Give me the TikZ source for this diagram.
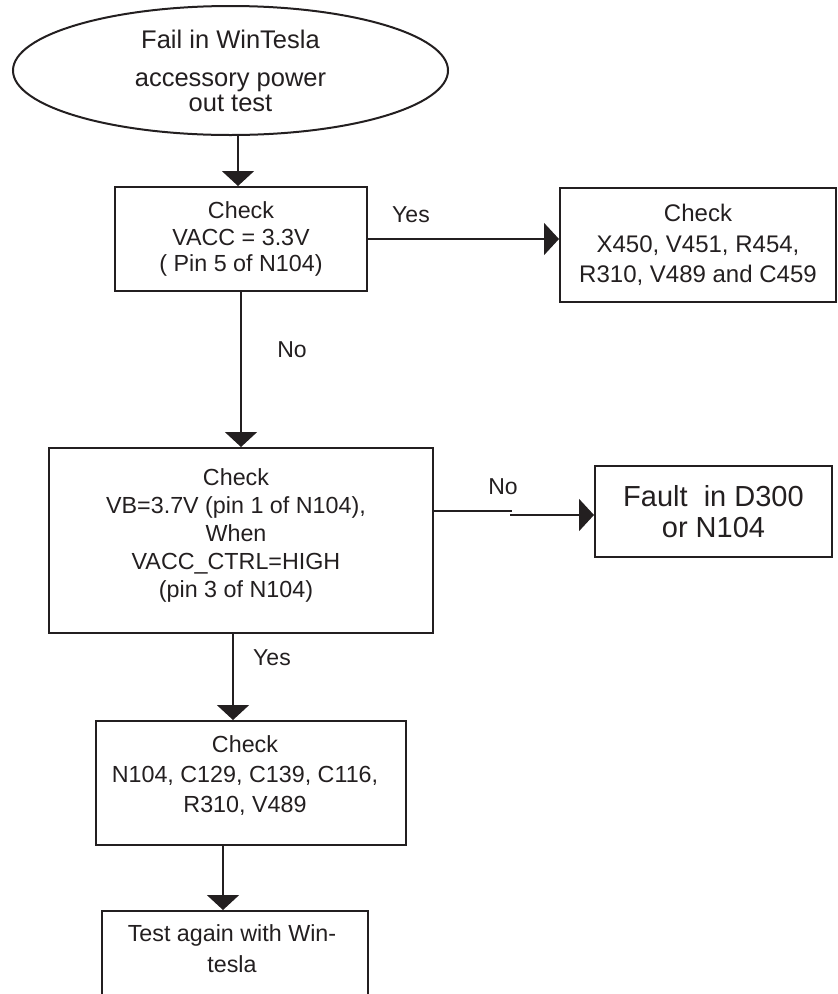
\documentclass[tikz,border=0pt]{standalone}
\usepackage{fontspec}
\setmainfont{Liberation Sans}
\usetikzlibrary{arrows.meta,shapes.geometric}
\definecolor{ink}{HTML}{231F20}
\begin{document}
\begin{tikzpicture}[x=1pt,y=-1pt,
  every node/.style={text=ink, inner sep=0pt},
  flowbox/.style={draw=ink, line width=2pt, rectangle, align=center},
  term/.style={draw=ink, line width=2pt, ellipse, align=center},
  txt/.style={align=center, font=\fontsize{23.3}{28}\selectfont},
  lbl/.style={font=\fontsize{23}{27}\selectfont},
  flow/.style={draw=ink, line width=2pt, -{Triangle[width=32pt,length=15pt]}},
  plain/.style={draw=ink, line width=2pt},
]
\useasboundingbox (0,0) rectangle (838,994);
\clip (0,0) rectangle (838,994);

% start terminal
\node[term, minimum width=435pt, minimum height=129pt,
      font=\fontsize{25.5}{25}\selectfont] (start) at (230.5,70.5)
  {Fail in WinTesla\\[13pt]accessory power\\out test};

% first check: VACC
\node[flowbox, minimum width=252pt, minimum height=104pt,
      font=\fontsize{23.3}{26.5}\selectfont] (vacc) at (241,239)
  {Check\\VACC = 3.3V\\( Pin 5 of N104)};

% components to check when VACC is present
\node[flowbox, minimum width=276pt, minimum height=114pt,
      font=\fontsize{24}{30.5}\selectfont] (xcheck) at (698,245)
  {Check\\X450, V451, R454,\\R310, V489 and C459};

% second check: VB with VACC_CTRL high
\node[flowbox, minimum width=384pt, minimum height=185pt] (vb) at (241,540.5) {};
\node[txt] (vbtext) at (236,535)
  {Check\\VB=3.7V (pin 1 of N104),\\When\\VACC\_CTRL=HIGH\\(pin 3 of N104)};

% fault result
\node[flowbox, minimum width=237pt, minimum height=91pt,
      font=\fontsize{29}{31}\selectfont] (fault) at (713.5,511.5)
  {Fault\ \ in D300\\or N104};

% parts check
\node[flowbox, minimum width=310pt, minimum height=124pt] (parts) at (251,783) {};
\node[txt, font=\fontsize{23.3}{30}\selectfont] (partstext) at (245,776)
  {Check\\N104, C129, C139, C116,\\R310, V489};

% retest
\node[flowbox, minimum width=266pt, minimum height=100pt] (retest) at (235,961) {};
\node[txt, font=\fontsize{23.3}{31}\selectfont] (retesttext) at (232,949)
  {Test again with Win-\\tesla};

% connectors
\coordinate (c1) at (238,0);
\coordinate (c2) at (233,0);
\coordinate (c3) at (223,0);
\coordinate (n1) at (512,511);
\coordinate (n2) at (510,515);

\draw[flow] (start.south -| c1) -- (vacc.north -| c1);
\draw[flow] (vacc.east) -- (vacc.east -| xcheck.west);
\draw[flow] (vacc.south) -- (vb.north);
\draw[plain] (vb.east |- n1) -- (n1);
\draw[flow] (n2) -- (n2 -| fault.west);
\draw[flow] (vb.south -| c2) -- (parts.north -| c2);
\draw[flow] (parts.south -| c3) -- (retest.north -| c3);

% branch labels
\node[lbl] (yes1) at (411,215) {Yes};
\node[lbl] (no1) at (292,350) {No};
\node[lbl] (no2) at (503,487) {No};
\node[lbl] (yes2) at (272,658) {Yes};
\end{tikzpicture}
\end{document}
